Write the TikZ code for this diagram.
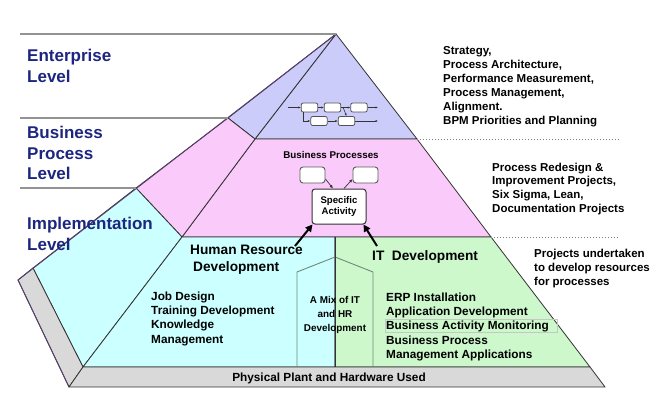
\documentclass[tikz,border=0pt]{standalone}
\usepackage{fontspec}
\setmainfont{Liberation Sans}
\usetikzlibrary{arrows.meta}
\definecolor{entc}{HTML}{CCCCFA}
\definecolor{busc}{HTML}{FACAFA}
\definecolor{hrc}{HTML}{CCFFFF}
\definecolor{itc}{HTML}{CCF8CC}
\definecolor{basec}{HTML}{D9D9D9}
\definecolor{navy}{HTML}{1C2580}
\definecolor{edge}{HTML}{333333}
\definecolor{outeredge}{HTML}{5A3F70}
\definecolor{mixline}{HTML}{6F8A78}
\begin{document}
\begin{tikzpicture}[x=1pt,y=-1pt,
  face/.style={draw=edge,line width=0.8pt,line join=round},
  lvl/.style={draw=gray!85,line width=1.6pt},
  sepline/.style={draw=gray,dotted,line width=1pt},
  lvltxt/.style={anchor=north west,inner sep=0pt,align=left,text=navy,font=\bfseries\fontsize{17}{20.5}\selectfont},
  desc/.style={anchor=north west,inner sep=0pt,align=left,font=\bfseries\fontsize{11.5}{13.9}\selectfont},
  head/.style={anchor=north west,inner sep=0pt,align=left,font=\bfseries\fontsize{13.7}{17}\selectfont},
  listtxt/.style={anchor=north west,inner sep=0pt,align=left,font=\bfseries\fontsize{11.8}{14.1}\selectfont},
  smalltxt/.style={inner sep=0pt,align=center,font=\bfseries\fontsize{9.8}{11.5}\selectfont},
  mixtxt/.style={anchor=north,inner sep=0pt,align=center,font=\bfseries\fontsize{9.9}{14}\selectfont},
  sabox/.style={draw=edge,line width=1pt,fill=white,rounded corners=3pt,minimum width=54pt,minimum height=35pt,inner sep=0pt,align=center,font=\bfseries\fontsize{9.6}{11.5}\selectfont},
  bpbox/.style={draw=edge!80,line width=0.9pt,fill=white,rounded corners=3pt,minimum width=25pt,minimum height=16pt,inner sep=0pt},
  minibox/.style={draw=edge!85,line width=0.8pt,fill=white,rounded corners=2pt,minimum width=16.5pt,minimum height=9pt,inner sep=0pt},
  mini/.style={draw=edge,line width=0.6pt,-{Latex[length=2.5pt,width=2.2pt]}},
  smallarr/.style={draw=edge,line width=0.7pt,-{Latex[length=3.5pt,width=3pt]}},
  bigarr/.style={draw=black,line width=2pt,-{Triangle[length=7pt,width=7pt]}}
]
\useasboundingbox (0,0) rectangle (662,420);
% faces
\path[face,fill=entc] (336,34) -- (255,139) -- (417,139) -- cycle;
\path[face,fill=entc] (336,34) -- (228,118) -- (255,139) -- cycle;
\path[face,fill=busc] (255,139) -- (417,139) -- (491,237) -- (182,237) -- cycle;
\path[face,fill=busc] (228,118) -- (255,139) -- (182,237) -- (136,188) -- cycle;
\path[face,fill=hrc] (136,188) -- (182,237) -- (83,367) -- (33,268) -- cycle;
\path[face,fill=hrc] (182,237) -- (335,237) -- (335,367) -- (83,367) -- cycle;
\path[face,fill=itc] (335,237) -- (491,237) -- (590,367) -- (335,367) -- cycle;
\path[face,fill=basec] (33,268) -- (83,367) -- (69,387) -- (18,280) -- cycle;
\path[face,fill=basec] (83,367) -- (590,367) -- (605,387) -- (69,387) -- cycle;
\draw[outeredge,line width=0.9pt,line join=round] (336,34) -- (18,280) -- (69,387);
% mix house
\draw[mixline,line width=0.9pt,line join=round] (297,367) -- (297,272) -- (335,257) -- (373,272) -- (373,367);
\draw[edge,line width=0.9pt] (335,237) -- (335,367);
% level lines
\draw[lvl] (20,34) -- (336,34);
\draw[lvl] (20,118) -- (228,118);
\draw[lvl] (20,188) -- (136,188);
\draw[sepline] (417,139) -- (620,139);
\draw[sepline] (491,237) -- (618,237);
% level labels
\node[lvltxt] (lE) at (27,49) {Enterprise\\Level};
\node[lvltxt] (lB) at (27,126) {Business\\Process\\Level};
\node[lvltxt] (lI) at (27,217) {Implementation\\Level};
% right descriptions
\node[desc] (dE) at (443,46.5) {Strategy,\\Process Architecture,\\Performance Measurement,\\Process Management,\\Alignment.\\BPM Priorities and Planning};
\node[desc] (dB) at (492,162.5) {Process Redesign \&\\Improvement Projects,\\Six Sigma, Lean,\\Documentation Projects};
\node[desc] (dI) at (534,249) {Projects undertaken\\to develop resources\\for processes};
% enterprise mini diagram
\node[minibox] (m1) at (309.5,107.5) {};
\node[minibox] (m2) at (332.5,107.5) {};
\node[minibox] (m3) at (359,107.5) {};
\node[minibox] (m4) at (319,121) {};
\node[minibox] (m5) at (346.5,121) {};
\coordinate (min) at (288,107.5);
\coordinate (mo1) at (378,107.5);
\coordinate (mo2) at (378,121);
\draw[mini] (min) -- (m1.west);
\draw[mini] (m1.east) -- (m2.west);
\draw[mini] (m2.east) -- (m3.west);
\draw[mini] (m3.east) -- (mo1);
\draw[mini] ([xshift=-6pt]m1.south) |- (m4.west);
\draw[mini] (m4.east) -- (m5.west);
\draw[mini] (m5.east) -- (mo2);
\draw[mini] (m2.east) -- ++(2,0) -- (m5.north);
% business processes
\node[smalltxt] (bpt) at (331,155) {Business Processes};
\node[bpbox] (bp1) at (312.5,175) {};
\node[bpbox] (bp2) at (365.5,175) {};
\node[sabox] (sa) at (339,206.5) {Specific\\Activity};
\draw[smallarr] ([yshift=-4pt]bp1.east) -- ([xshift=-6pt]sa.north);
\draw[smallarr] ([xshift=5pt]sa.north) -- ([yshift=-4pt]bp2.west);
% implementation
\node[head] (hrh) at (190,245) {Human Resource\\\hspace*{3pt}Development};
\node[head] (ith) at (372,250) {IT\ \ Development};
\coordinate (hrarr) at (295,246);
\coordinate (itarr) at (377,246);
\draw[bigarr] (hrarr) -- ([xshift=1pt]sa.south west);
\draw[bigarr] (itarr) -- ([xshift=-3pt]sa.south east);
\node[listtxt] (hrl) at (151,292) {Job Design\\Training Development\\Knowledge\\Management};
\node[listtxt] (itl) at (386,293) {ERP Installation\\Application Development\\Business Activity Monitoring\\Business Process\\Management Applications};
\draw[gray!45,line width=0.5pt] (385,319) rectangle (557,332);
\node[mixtxt] (mix) at (335,296.5) {A Mix of IT\\and HR\\Development};
\node[listtxt,anchor=center] (phys) at (329,378.5) {Physical Plant and Hardware Used};
\end{tikzpicture}
\end{document}
